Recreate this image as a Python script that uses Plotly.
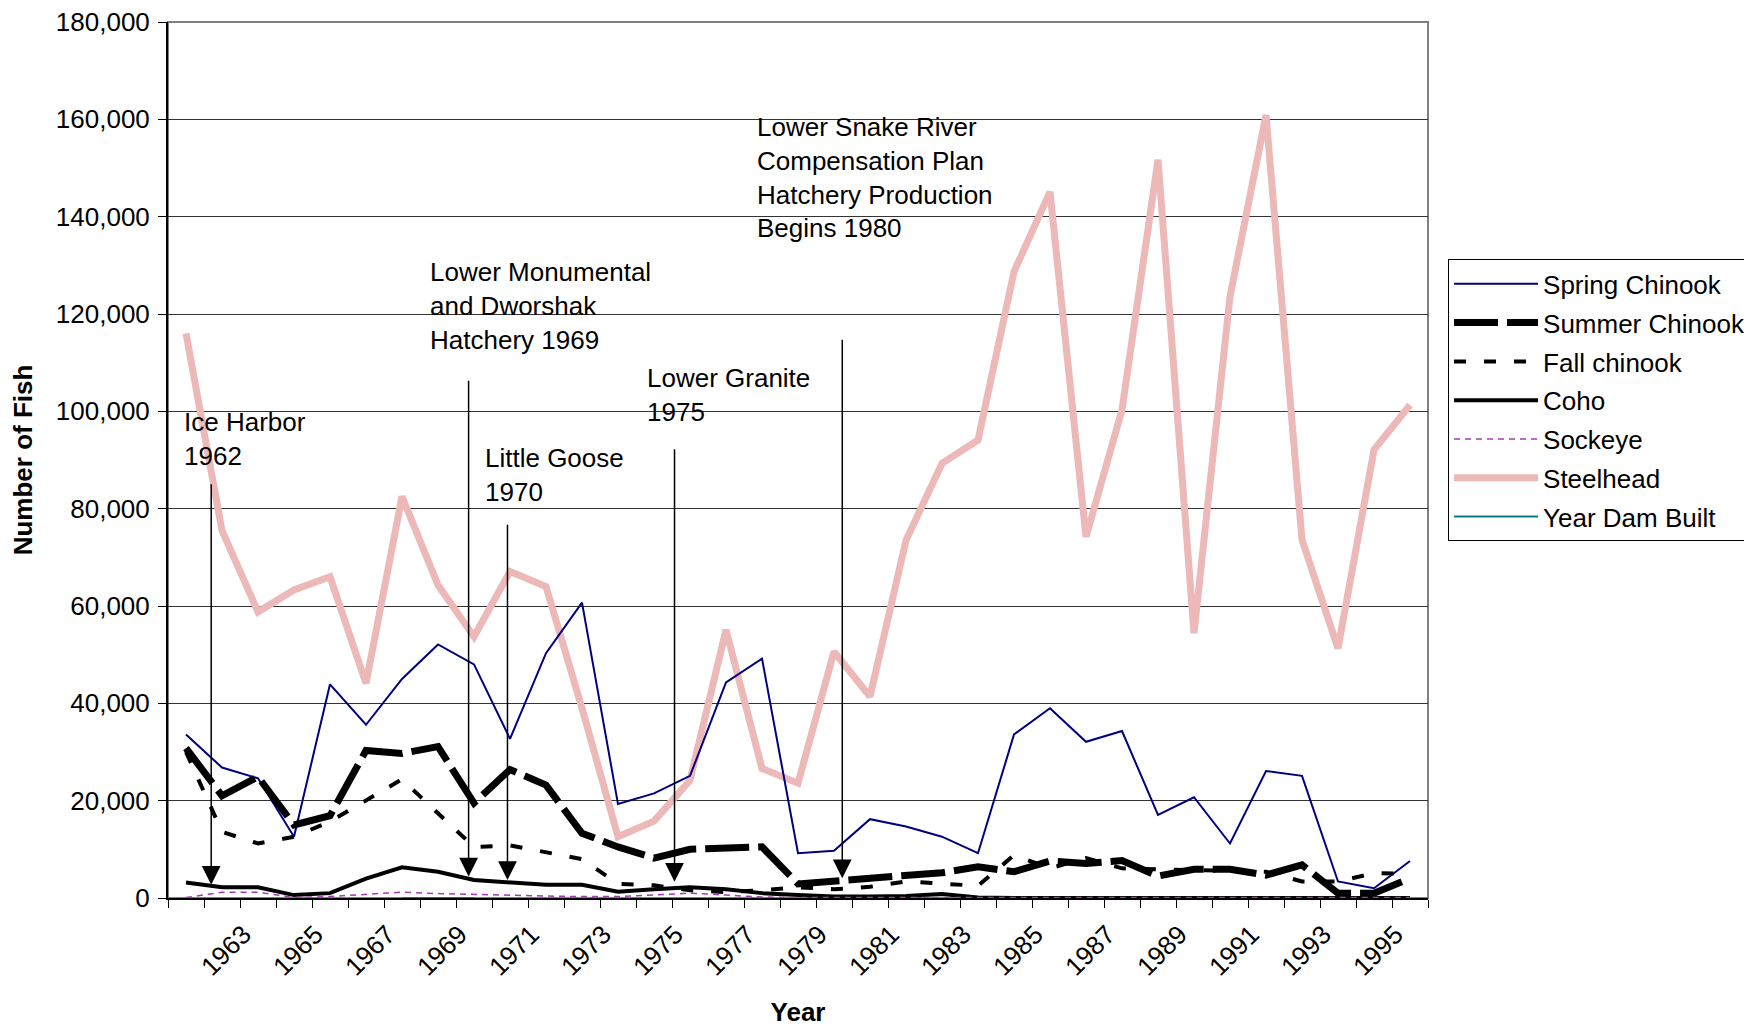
import plotly.graph_objects as go

years = list(range(1962, 1997))

spring_chinook = [33600, 26800, 24600, 12600, 43900, 35600, 45000, 52100, 48000, 32700,
                  50300, 60700, 19300, 21500, 25100, 44300, 49200, 9200, 9700, 16200,
                  14700, 12600, 9200, 33600, 39000, 32100, 34300, 17100, 20700, 11200,
                  26100, 25100, 3400, 2000, 7600]
summer_chinook = [30800, 21000, 24900, 15000, 16900, 30300, 29700, 31100, 19500, 26400,
                  23200, 13300, 10500, 8200, 10000, 10400, 10500, 2900, 3500, 4200,
                  4900, 5200, 6400, 5400, 7600, 7100, 7700, 4500, 5900, 5900,
                  4700, 6800, 1000, 1000, 4000]
fall_chinook = [30000, 13600, 11200, 12600, 15700, 20100, 24400, 17400, 10500, 10800,
                9500, 8000, 2900, 2600, 1600, 1200, 1600, 2200, 1800, 2300,
                3400, 2900, 2500, 8800, 6100, 8200, 6100, 5900, 5700, 5700,
                5400, 3400, 3400, 5100, 5000]
coho = [3200, 2200, 2200, 600, 1000, 4000, 6300, 5400, 3700, 3100,
        2700, 2700, 1300, 1800, 2200, 1800, 1000, 600, 300, 300,
        400, 800, 100, 0, 0, 0, 0, 0, 0, 0,
        0, 0, 0, 0, 0]
sockeye = [100, 1200, 1200, 100, 300, 800, 1200, 900, 700, 500,
           400, 300, 300, 600, 1000, 600, 200, 100, 100, 100,
           100, 100, 100, 100, 100, 100, 100, 100, 100, 100,
           100, 100, 100, 100, 100]
steelhead = [116000, 75500, 58800, 63300, 66000, 44100, 82500, 64300, 53700, 67100,
             64000, 39000, 12600, 15800, 24200, 55100, 26600, 23600, 50600, 41400,
             73500, 89300, 94100, 128700, 145100, 74200, 100300, 151700, 54400, 123600,
             160900, 73600, 51300, 92100, 101300]
year_dam_built = [None] * 6 + [0, 0, 0] + [None] * 26

y_ticks = list(range(0, 180001, 20000))
x_tick_years = list(range(1963, 1996, 2))

# dam / hatchery events: label, label-left year, label-center value, arrow year, arrow top, arrow tip
events = [
    ("Ice Harbor<br>1962", 1961.89, 94300, 1962.70, 85300, 2700),
    ("Lower Monumental<br>and Dworshak<br>Hatchery 1969", 1968.72, 121700, 1969.85, 106600, 4400),
    ("Little Goose<br>1970", 1970.26, 87000, 1970.93, 77000, 3700),
    ("Lower Granite<br>1975", 1974.76, 103300, 1975.57, 92500, 3350),
    ("Lower Snake River<br>Compensation Plan<br>Hatchery Production<br>Begins 1980", 1977.80, 148100, 1980.23, 115000, 4050),
]

FONT = "Arial, Liberation Sans, sans-serif"
FS = 26

series = [
    ("Spring Chinook", spring_chinook, dict(color="#000080", width=2)),
    ("Summer Chinook", summer_chinook, dict(color="#000000", width=7, dash="44px,9px")),
    ("Fall chinook", fall_chinook, dict(color="#000000", width=4, dash="12px,18px")),
    ("Coho", coho, dict(color="#000000", width=4)),
    ("Sockeye", sockeye, dict(color="#A23CB0", width=1.5, dash="6px,5px")),
    ("Steelhead", steelhead, dict(color="#ECB8B8", width=7)),
    ("Year Dam Built", year_dam_built, dict(color="#008080", width=2)),
]
draw_order = [5, 0, 1, 2, 3, 4, 6]

fig = go.Figure()
for idx in draw_order:
    name, vals, line = series[idx]
    fig.add_trace(go.Scatter(x=years, y=vals, name=name, mode="lines", line=line,
                             legendrank=idx + 1, legendgroup=name))

for label, lx, ly, ax_year, top, tip in events:
    fig.add_annotation(x=lx, y=ly, xref="x", yref="y", text=label, showarrow=False,
                       xanchor="left", yanchor="middle", align="left",
                       font=dict(family=FONT, size=FS, color="#000"))
    fig.add_annotation(x=ax_year, y=tip, ax=ax_year, ay=top, xref="x", yref="y",
                       axref="x", ayref="y", text="", showarrow=True,
                       arrowhead=2, arrowsize=2.5, arrowwidth=1.5, arrowcolor="#000")

# plot area border (gray top/right)
fig.add_shape(type="rect", xref="paper", yref="paper", x0=0, y0=0, x1=1, y1=1,
              line=dict(color="#808080", width=2), layer="below")

fig.update_layout(
    width=1752, height=1026,
    margin=dict(l=160, r=332, t=14, b=136, autoexpand=False),
    paper_bgcolor="white", plot_bgcolor="white",
    font=dict(family=FONT, size=FS, color="#000"),
    legend=dict(x=1.0159, y=0.729, xanchor="left", yanchor="top",
                bgcolor="white", bordercolor="#000", borderwidth=1,
                font=dict(family=FONT, size=FS), itemwidth=84,
                traceorder="grouped", tracegroupgap=2),
    showlegend=True,
)
fig.update_xaxes(range=[1961.5, 1996.5], tickmode="array", automargin=False,
                 tickvals=[y + 0.6 for y in x_tick_years],
                 ticktext=[str(y) for y in x_tick_years], tickangle=-45, ticks="",
                 ticklabelstandoff=9,
                 showgrid=False, zeroline=False, showline=True, linecolor="#000", linewidth=2,
                 minor=dict(tick0=1961.5, dtick=1, ticks="outside", ticklen=8,
                            tickcolor="#000", tickwidth=1, showgrid=False),
                 title=dict(text="<b>Year</b>", font=dict(family=FONT, size=FS), standoff=22),
                 tickfont=dict(family=FONT, size=FS))
fig.update_yaxes(range=[0, 180000], tickmode="array", tickvals=y_ticks, tickformat=",d",
                 automargin=False,
                 ticks="outside", ticklen=8, tickcolor="#000", showgrid=True,
                 ticklabelstandoff=3, ticklabeloverflow="allow",
                 gridcolor="#333", gridwidth=1, zeroline=False, showline=True,
                 linecolor="#000", linewidth=2,
                 title=dict(text="<b>Number of Fish</b>", font=dict(family=FONT, size=FS), standoff=18),
                 tickfont=dict(family=FONT, size=FS))

fig.write_html("out.html")
